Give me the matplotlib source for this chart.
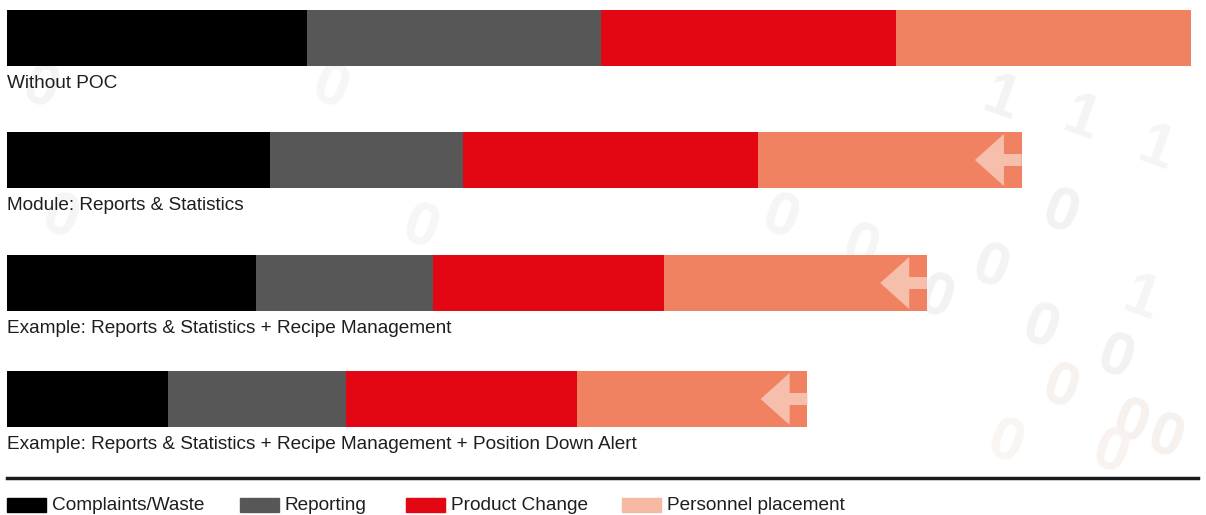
import matplotlib.pyplot as plt
from matplotlib.patches import Rectangle

plt.rcParams['font.family'] = ['Liberation Sans', 'DejaVu Sans']

# Data
scenarios = ['Without POC',
             'Module: Reports & Statistics',
             'Example: Reports & Statistics + Recipe Management',
             'Example: Reports & Statistics + Recipe Management + Position Down Alert']
series = ['Complaints/Waste', 'Reporting', 'Product Change', 'Personnel placement']
complaints = [25.3, 22.2, 21.0, 13.6]
reporting = [24.9, 16.3, 15.0, 15.0]
product_change = [24.9, 24.9, 19.5, 19.5]
personnel = [24.9, 22.3, 22.2, 19.5]
has_arrow = [False, True, True, True]

colors = ['#000000', '#575757', '#e30613', '#f08262']
legend_colors = ['#000000', '#575757', '#e30613', '#f6b8a2']
arrow_color = '#f6bfac'

# layout (pixel-like units)
px = 11.84                      # pixels per data unit along x
bar_y = [38, 160, 283, 399]
bar_h = 56

fig = plt.figure(figsize=(12.06, 5.15), dpi=100)
ax = fig.add_axes([0, 0, 1, 1])
ax.set_xlim(-7 / px, (1206 - 7) / px)
ax.set_ylim(515, 0)
ax.axis('off')

# very faint binary digits in the background
bg = [('0', 1000, 165, '#f1f1f1'), ('0', 1060, 215, '#f2f2f2'), ('0', 935, 300, '#f2f2f2'),
      ('0', 990, 270, '#f3f3f3'), ('0', 1040, 330, '#f3f3f3'), ('0', 1115, 360, '#f4f2f1'),
      ('0', 1060, 390, '#f6f2ef'), ('0', 1130, 425, '#f7f1ed'), ('0', 1165, 440, '#f7f1ed'),
      ('0', 1110, 455, '#f8f3f0'), ('0', 1005, 445, '#f9f5f2'),
      ('1', 1000, 100, '#f3f3f3'), ('1', 1080, 120, '#f4f4f4'), ('1', 1155, 150, '#f5f5f5'),
      ('1', 1140, 300, '#f5f5f5'), ('0', 780, 220, '#f5f5f5'),
      ('0', 860, 250, '#f5f5f5'), ('0', 40, 90, '#f4f4f4'),
      ('0', 60, 220, '#f5f5f5'), ('0', 330, 90, '#f6f6f6'), ('0', 420, 230, '#f6f6f6')]
for ch, x, y, c in bg:
    ax.text((x - 7) / px, y, ch, fontsize=44, color=c, rotation=-20,
            ha='center', va='center', zorder=0, fontweight='bold')

stack = [complaints, reporting, product_change, personnel]
for i, name in enumerate(scenarios):
    left = 0
    for vals, col in zip(stack, colors):
        ax.barh(bar_y[i], vals[i], left=left, height=bar_h, color=col, zorder=2)
        left += vals[i]
    if has_arrow[i]:
        ax.arrow(left, bar_y[i], -3.95, 0, width=12, head_width=52,
                 head_length=2.45, length_includes_head=True,
                 color=arrow_color, lw=0, zorder=3)
    ax.text(0, bar_y[i] + bar_h / 2 + 22, name, fontsize=13.7, color='#1e1e1e',
            va='baseline', ha='left', zorder=4)

# separator line
ax.plot([0, (1198 - 7) / px], [478, 478], color='#1a1a1a', lw=2.5, zorder=4)

# legend
swatch_x = [7, 240, 406, 622]
for sx, lab, col in zip(swatch_x, series, legend_colors):
    ax.add_patch(Rectangle(((sx - 7) / px, 498), 39 / px, 14, color=col, zorder=4))
    ax.text((sx - 7 + 45) / px, 505, lab, fontsize=13.7, color='#1e1e1e',
            va='center', ha='left', zorder=4)

fig.savefig('out.png', dpi=100, facecolor='white')
